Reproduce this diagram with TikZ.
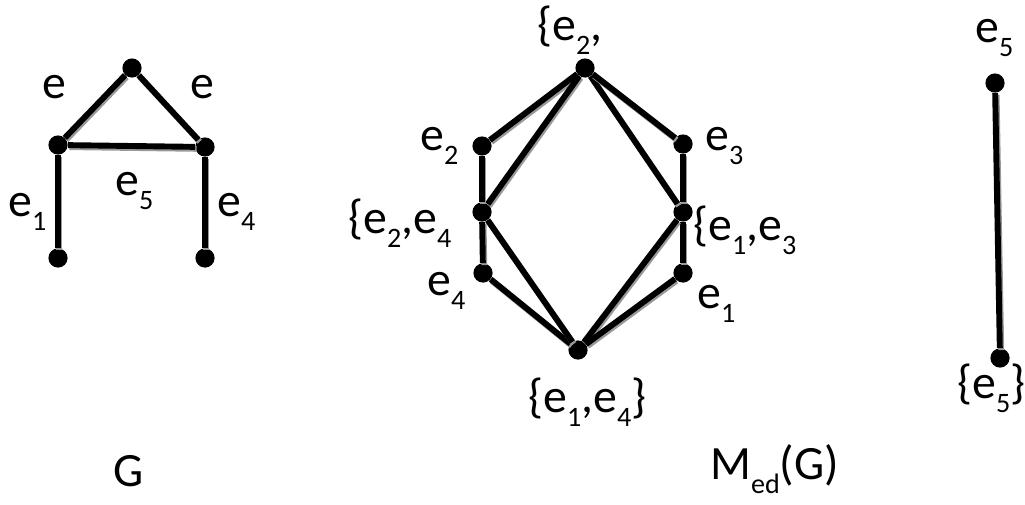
\documentclass[tikz,border=0pt]{standalone}
\usepackage{fontspec}
\setmainfont{Carlito}
\usetikzlibrary{positioning}

\newcommand{\low}[1]{\raisebox{-10.5pt}{\fontsize{20}{20}\selectfont #1}}

\tikzset{
  dot/.style={circle, fill=black, inner sep=0pt, minimum size=0.48cm},
  edge/.style={line width=4.2pt,
    preaction={draw=black!40, line width=4.2pt,
      transform canvas={shift={(1pt,-1.4pt)}}}},
  lab/.style={font=\fontsize{34}{40}\selectfont, inner sep=0pt, anchor=base west}
}

\begin{document}
\begin{tikzpicture}
\useasboundingbox (0,0) rectangle (25.625,12.6);

% --- Graph G ---
\node[dot] (gt)  at (3.3, 10.9) {};
\node[dot] (gl)  at (1.45, 8.975) {};
\node[dot] (gr)  at (5.125, 8.925) {};
\node[dot] (gbl) at (1.45, 6.15) {};
\node[dot] (gbr) at (5.125, 6.15) {};

\draw[edge] (gl) -- (gt);
\draw[edge] (gt) -- (gr);
\draw[edge] (gl) -- (gr);
\draw[edge] (gl) -- (gbl);
\draw[edge] (gr) -- (gbr);

\node[lab] (lgl)  at (1.05, 10.15) {e};
\node[lab] (lgr)  at (4.75, 10.15) {e};
\node[lab] (lge1) at (0.2, 7.2) {e\low{1}};
\node[lab] (lge5) at (2.875, 7.725) {e\low{5}};
\node[lab] (lge4) at (5.425, 7.2) {e\low{4}};
\node[lab] (lG)   at (2.825, 0.45) {G};

% --- Graph M_ed(G) ---
\node[dot] (mt)   at (14.625, 10.9) {};
\node[dot] (me2)  at (12.05, 8.95) {};
\node[dot] (me3)  at (17.075, 9.0) {};
\node[dot] (me24) at (12.05, 7.3) {};
\node[dot] (me13) at (17.075, 7.3) {};
\node[dot] (me4)  at (12.075, 5.775) {};
\node[dot] (me1)  at (17.075, 5.775) {};
\node[dot] (mb)   at (14.45, 3.85) {};

\foreach \a/\b in {mt/me2, mt/me24, mt/me13, mt/me3, me2/me24, me24/me4,
                   me3/me13, me13/me1, me4/mb, me24/mb, me13/mb, me1/mb}
  \draw[edge] (\a) -- (\b);

\node[lab] (lmt)   at (13.425, 11.6) {\{e\low{2},};
\node[lab] (lme2)  at (10.5, 8.85) {e\low{2}};
\node[lab] (lme3)  at (17.625, 8.85) {e\low{3}};
\node[lab] (lme24) at (8.7, 6.775) {\{e\low{2},e\low{4}};
\node[lab] (lme13) at (17.325, 6.6) {\{e\low{1},e\low{3}};
\node[lab] (lme4)  at (10.675, 5.225) {e\low{4}};
\node[lab] (lme1)  at (17.425, 4.9) {e\low{1}};
\node[lab] (lmb)   at (13.2, 2.3) {\{e\low{1},e\low{4}\}};
\node[lab] (lM)    at (17.75, 0.62) {M\low{ed}(G)};

% --- Right graph ---
\node[dot] (rt) at (24.875, 10.525) {};
\node[dot] (rb) at (25.0, 3.65) {};
\draw[edge, preaction={draw=none}] (rt) -- (rb);

\node[lab] (lrt) at (24.375, 11.55) {e\low{5}};
\node[lab] (lrb) at (23.925, 2.65) {\{e\low{5}\}};

\end{tikzpicture}
\end{document}
